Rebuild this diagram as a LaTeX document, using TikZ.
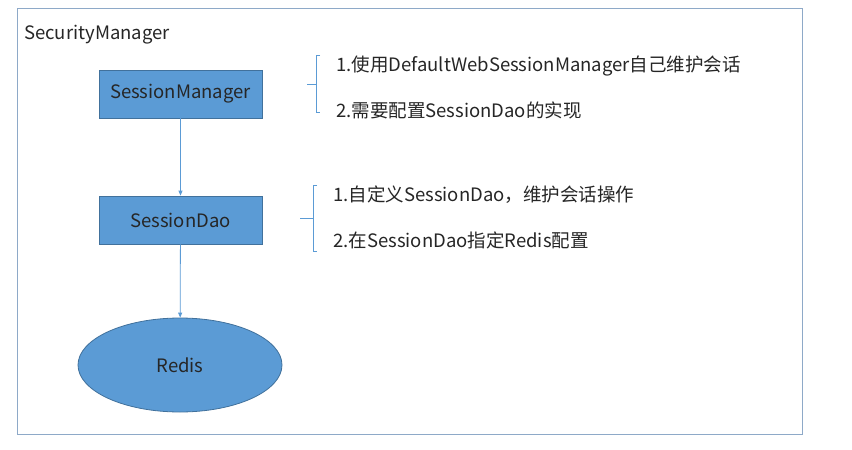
\documentclass[tikz,border=0pt]{standalone}
\usepackage{fontspec}
\setmainfont{Noto Sans CJK SC}
\usetikzlibrary{shapes.geometric,arrows.meta}
\definecolor{boxfill}{HTML}{5B9BD5}
\definecolor{boxline}{HTML}{41719C}
\definecolor{frameline}{HTML}{8EA9C8}
\definecolor{txt}{HTML}{262626}
\tikzset{
  blk/.style={draw=boxline, fill=boxfill, line width=0.8pt, minimum width=163pt, minimum height=48pt, inner sep=0pt, font=\fontsize{18.5}{22}\selectfont, text=txt},
  ell/.style={ellipse, draw=boxline, fill=boxfill, line width=0.8pt, minimum width=204pt, minimum height=94pt, inner sep=0pt, font=\fontsize{18.5}{22}\selectfont, text=txt},
  conn/.style={draw=boxfill, line width=0.8pt, -{Triangle[length=5pt,width=4pt]}},
  brc/.style={draw=boxfill, line width=0.8pt},
  note/.style={anchor=west, inner sep=0pt, font=\fontsize{18.5}{22}\selectfont, text=txt},
}
\begin{document}
\begin{tikzpicture}[x=1pt,y=-1pt]
\useasboundingbox (0,0) rectangle (852,450);
\fill[white] (0,0) rectangle (852,450);
\draw[frameline, line width=0.8pt] (17,8) rectangle (802,434);
\node[note] (title) at (24,35) {SecurityManager};
\node[blk] (sm) at (180.5,94) {SessionManager};
\node[blk] (sd) at (180.5,220) {SessionDao};
\node[ell] (rd) at (180,365) {Redis};
\draw[conn] (sm) -- (sd);
\draw[conn] (sd) -- (rd);
% brace 1
\coordinate (b1t) at (320,55);
\coordinate (b1b) at (320,112);
\coordinate (b1m) at (316,84);
\coordinate (b1k) at (307,84);
\draw[brc] (b1t) -- ++(-4,0) |- (b1b);
\draw[brc] (b1m) -- (b1k);
\node[note] (n1) at (336,66) {1.使用DefaultWebSessionManager自己维护会话};
\node[note] (n2) at (336,110) {2.需要配置SessionDao的实现};
% brace 2
\coordinate (b2t) at (317,185);
\coordinate (b2b) at (317,251);
\coordinate (b2m) at (313,218);
\coordinate (b2k) at (300,218);
\draw[brc] (b2t) -- ++(-4,0) |- (b2b);
\draw[brc] (b2m) -- (b2k);
\node[note] (n3) at (333,195) {1.自定义SessionDao，维护会话操作};
\node[note] (n4) at (333,240) {2.在SessionDao指定Redis配置};
\end{tikzpicture}
\end{document}
